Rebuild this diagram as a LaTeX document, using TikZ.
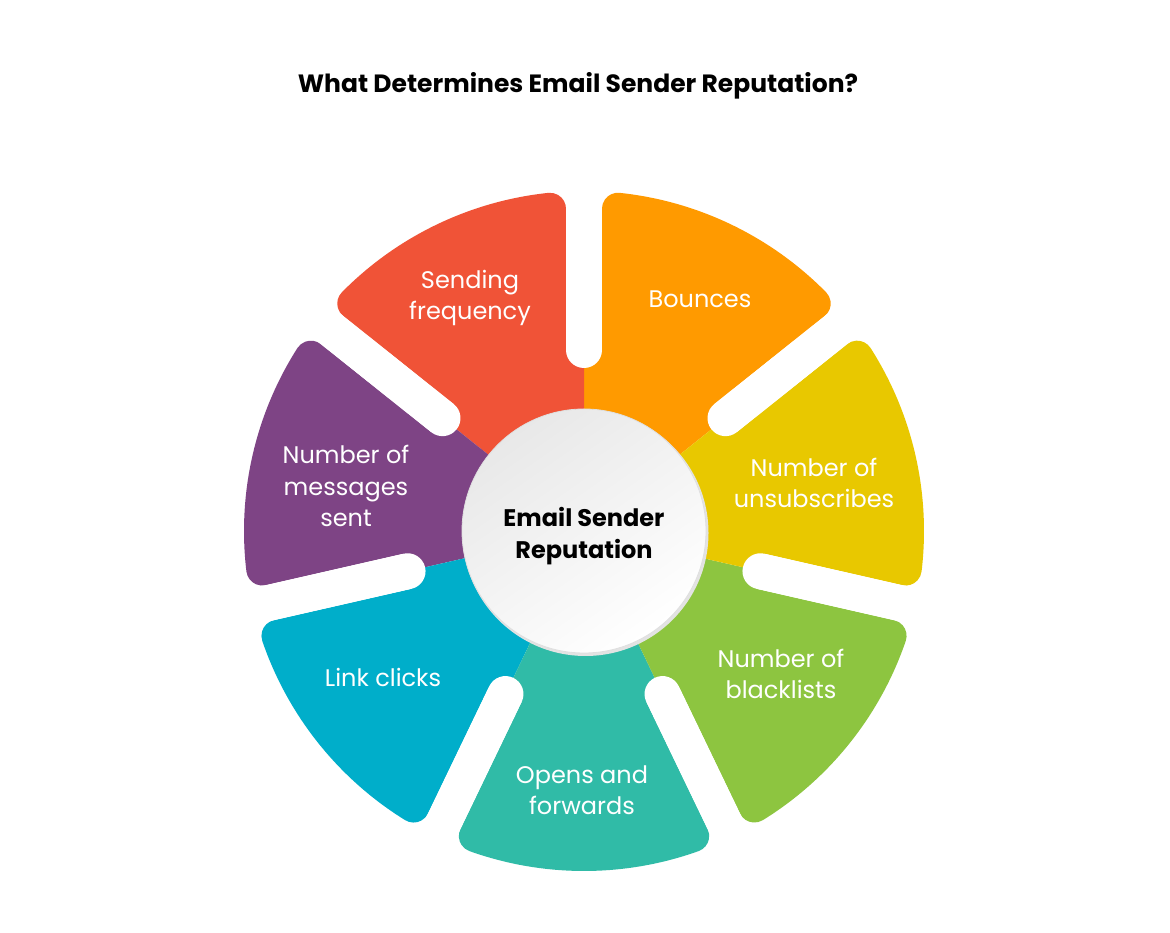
\documentclass[tikz,border=0pt]{standalone}
\usepackage{fontspec}
\setmainfont{Poppins}
\usetikzlibrary{calc}
\definecolor{cOrange}{HTML}{FF9A00}
\definecolor{cRed}{HTML}{F05337}
\definecolor{cPurple}{HTML}{7E4485}
\definecolor{cBlue}{HTML}{00AECA}
\definecolor{cTeal}{HTML}{30BBA7}
\definecolor{cGreen}{HTML}{8DC540}
\definecolor{cYellow}{HTML}{E8C800}
\tikzset{
  lbl/.style={text=white, font=\fontsize{24}{31.5}\selectfont, align=center},
  gapline/.style={white, line width=36pt, line cap=round},
}
\begin{document}
\begin{tikzpicture}[x=1pt,y=1pt]
\useasboundingbox (0,0) rectangle (1170,933);
\fill[white] (0,0) rectangle (1170,933);
\coordinate (O) at (584,402);
\def\Rout{340}
\def\W{18}
\def\Rc{16}
\def\Ri{181}
\def\Fx{322.21}
\def\Ph{6.02}
\foreach \i/\col in {0/cOrange,1/cRed,2/cPurple,3/cBlue,4/cTeal,5/cGreen,6/cYellow}{
  \pgfmathsetmacro\aA{38.5714+\i*51.4286}
  \pgfmathsetmacro\aB{\aA+51.4286}
  \fill[\col] (O) -- ($(O)+(\aA:\Ri pt)$)
    -- ($(O)+(\aA:\Ri pt)+(\aA+90:\W pt)$)
    -- ($(O)+(\aA:\Fx pt)+(\aA+90:\W pt)$)
    arc[start angle=\aA-90, end angle=\aA+\Ph, radius=\Rc pt]
    arc[start angle=\aA+\Ph, end angle=\aB-\Ph, radius=\Rout pt]
    arc[start angle=\aB-\Ph, end angle=\aB+90, radius=\Rc pt]
    -- ($(O)+(\aB:\Ri pt)+(\aB-90:\W pt)$)
    -- ($(O)+(\aB:\Ri pt)$) -- cycle;
}
\foreach \i in {0,...,6}{
  \pgfmathsetmacro\aA{90+\i*51.4286}
  \draw[gapline] ($(O)+(\aA:\Ri pt)$) -- ($(O)+(\aA:420pt)$);
}
% central circle
\fill[gray!22] ($(O)+(1.5pt,-2pt)$) circle[radius=123pt];
\shade[shading=axis, top color=gray!18, bottom color=white, shading angle=35]
  (O) circle[radius=122pt];
\draw[gray!25, line width=0.8pt] (O) circle[radius=122pt];
\node[font=\bfseries\fontsize{24}{31.5}\selectfont, align=center] (ctr) at ($(O)+(0,-5)$) {Email Sender\\Reputation};
% title
\node[font=\bfseries\fontsize{25}{30}\selectfont] (title) at (578,847) {What Determines Email Sender Reputation?};
% labels
\node[lbl] (l1) at (470,635) {Sending\\frequency};
\node[lbl] (l2) at (700,634) {Bounces};
\node[lbl] (l3) at (814,450) {Number of\\unsubscribes};
\node[lbl] (l4) at (781,259) {Number of\\blacklists};
\node[lbl] (l5) at (582,143) {Opens and\\forwards};
\node[lbl] (l6) at (383,256) {Link clicks};
\node[lbl] (l7) at (346,447) {Number of\\messages\\sent};
\end{tikzpicture}
\end{document}
